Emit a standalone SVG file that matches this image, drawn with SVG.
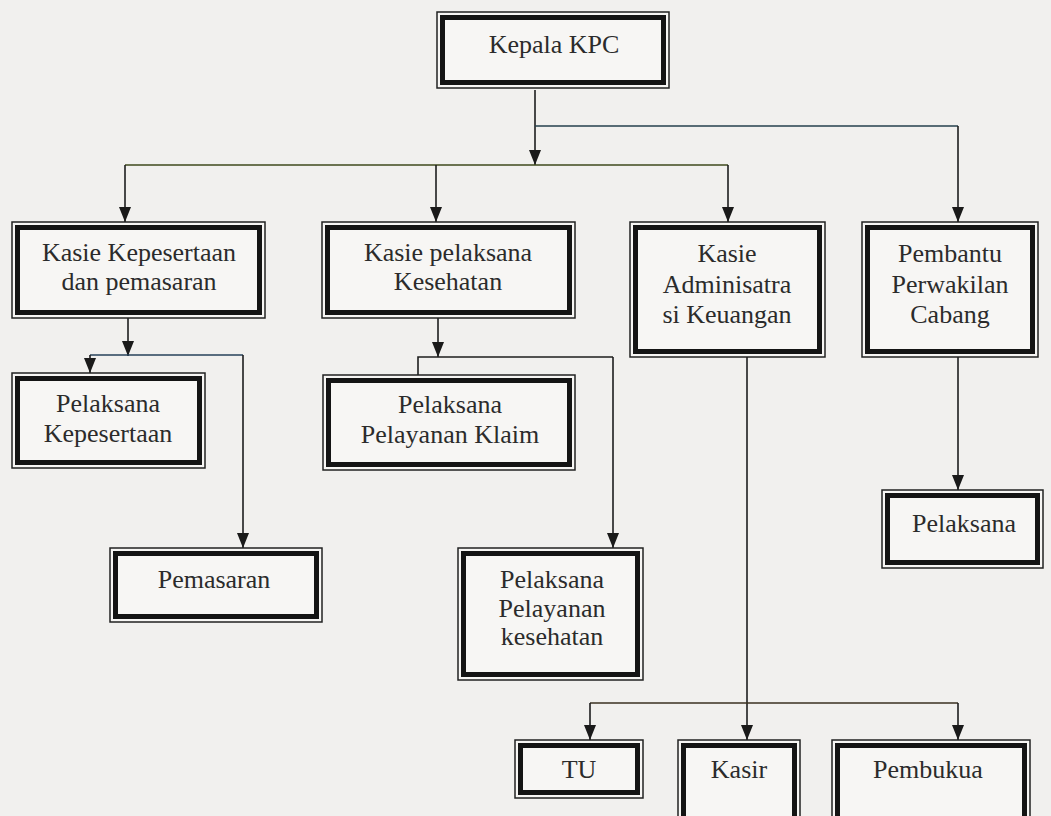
<svg xmlns="http://www.w3.org/2000/svg" width="1051" height="816" viewBox="0 0 1051 816">
<defs>
<marker id="arr" viewBox="0 0 15 12" refX="15" refY="6" markerWidth="15" markerHeight="12" markerUnits="userSpaceOnUse" orient="auto">
<path d="M0,0 L15,6 L0,12 Z" fill="#1a1a1a"/>
</marker>
<style>
.o{fill:#f7f6f4;stroke:#222;stroke-width:1.5}
.i{fill:#f7f6f4;stroke:#141414;stroke-width:5}
.t{font-family:"Liberation Serif","Times New Roman",serif;font-size:26px;fill:#2b2b2b;text-anchor:middle}
.c{fill:none;stroke:#1e1e1e;stroke-width:1.6}
.ca{fill:none;stroke:#1e1e1e;stroke-width:1.6;marker-end:url(#arr)}
</style>
</defs>
<rect width="1051" height="816" fill="#f1f0ee"/>
<g id="connectors">
<path class="ca" d="M535,90 V165"/>
<path class="c" d="M535,126 H958" style="stroke:#24404c"/>
<path class="ca" d="M958,126 V222"/>
<path class="c" d="M125,165 H728" style="stroke:#3e4a1c"/>
<path class="ca" d="M125,165 V222"/>
<path class="ca" d="M436,165 V222"/>
<path class="ca" d="M728,165 V222"/>
<path class="ca" d="M128,318 V356"/>
<path class="c" d="M90,355 H243" style="stroke:#26425a"/>
<path class="ca" d="M90,355 V373"/>
<path class="ca" d="M243,355 V548"/>
<path class="ca" d="M438,318 V357"/>
<path class="c" d="M418,375 V357 H613"/>
<path class="ca" d="M613,357 V548"/>
<path class="ca" d="M958,357 V490"/>
<path class="ca" d="M747,357 V740"/>
<path class="c" d="M590,703 H958" style="stroke:#3a3020"/>
<path class="ca" d="M590,703 V740"/>
<path class="ca" d="M958,703 V740"/>
</g>
<g id="kepala"><rect class="o" x="437" y="12" width="232" height="76"/><rect class="i" x="442.5" y="17.5" width="221" height="65"/><text class="t" x="554" y="53">Kepala KPC</text></g>
<g id="kasie-kepesertaan"><rect class="o" x="12" y="222" width="253" height="96"/><rect class="i" x="17.5" y="227.5" width="242" height="85"/><text class="t" x="139" y="261">Kasie Kepesertaan</text><text class="t" x="139" y="290">dan pemasaran</text></g>
<g id="kasie-pelaksana"><rect class="o" x="322" y="222" width="253" height="96"/><rect class="i" x="327.5" y="227.5" width="242" height="85"/><text class="t" x="448" y="261">Kasie pelaksana</text><text class="t" x="448" y="290">Kesehatan</text></g>
<g id="kasie-adm"><rect class="o" x="630" y="222" width="195" height="135"/><rect class="i" x="635.5" y="227.5" width="184" height="124"/><text class="t" x="727" y="262">Kasie</text><text class="t" x="727" y="293">Adminisatra</text><text class="t" x="727" y="323">si Keuangan</text></g>
<g id="pembantu"><rect class="o" x="862" y="222" width="176" height="135"/><rect class="i" x="867.5" y="227.5" width="165" height="124"/><text class="t" x="950" y="262">Pembantu</text><text class="t" x="950" y="293">Perwakilan</text><text class="t" x="950" y="323">Cabang</text></g>
<g id="pelaksana-kepesertaan"><rect class="o" x="12" y="373" width="193" height="95"/><rect class="i" x="17.5" y="378.5" width="182" height="84"/><text class="t" x="108" y="412">Pelaksana</text><text class="t" x="108" y="442">Kepesertaan</text></g>
<g id="pelaksana-klaim"><rect class="o" x="323" y="375" width="252" height="95"/><rect class="i" x="328.5" y="380.5" width="241" height="84"/><text class="t" x="450" y="413">Pelaksana</text><text class="t" x="450" y="443">Pelayanan Klaim</text></g>
<g id="pemasaran"><rect class="o" x="110" y="548" width="212" height="74"/><rect class="i" x="115.5" y="553.5" width="201" height="63"/><text class="t" x="214" y="588">Pemasaran</text></g>
<g id="pelaksana-kesehatan"><rect class="o" x="458" y="548" width="185" height="132"/><rect class="i" x="463.5" y="553.5" width="174" height="121"/><text class="t" x="552" y="588">Pelaksana</text><text class="t" x="552" y="617">Pelayanan</text><text class="t" x="552" y="645">kesehatan</text></g>
<g id="pelaksana"><rect class="o" x="882" y="490" width="161" height="78"/><rect class="i" x="887.5" y="495.5" width="150" height="67"/><text class="t" x="964" y="532">Pelaksana</text></g>
<g id="tu"><rect class="o" x="515" y="740" width="128" height="58"/><rect class="i" x="520.5" y="745.5" width="117" height="47"/><text class="t" x="579" y="778">TU</text></g>
<g id="kasir"><rect class="o" x="678" y="740" width="122" height="90"/><rect class="i" x="683.5" y="745.5" width="111" height="79"/><text class="t" x="739" y="778">Kasir</text></g>
<g id="pembukuan"><rect class="o" x="832" y="740" width="198" height="90"/><rect class="i" x="837.5" y="745.5" width="187" height="79"/><text class="t" x="928" y="778">Pembukua</text></g>
</svg>
